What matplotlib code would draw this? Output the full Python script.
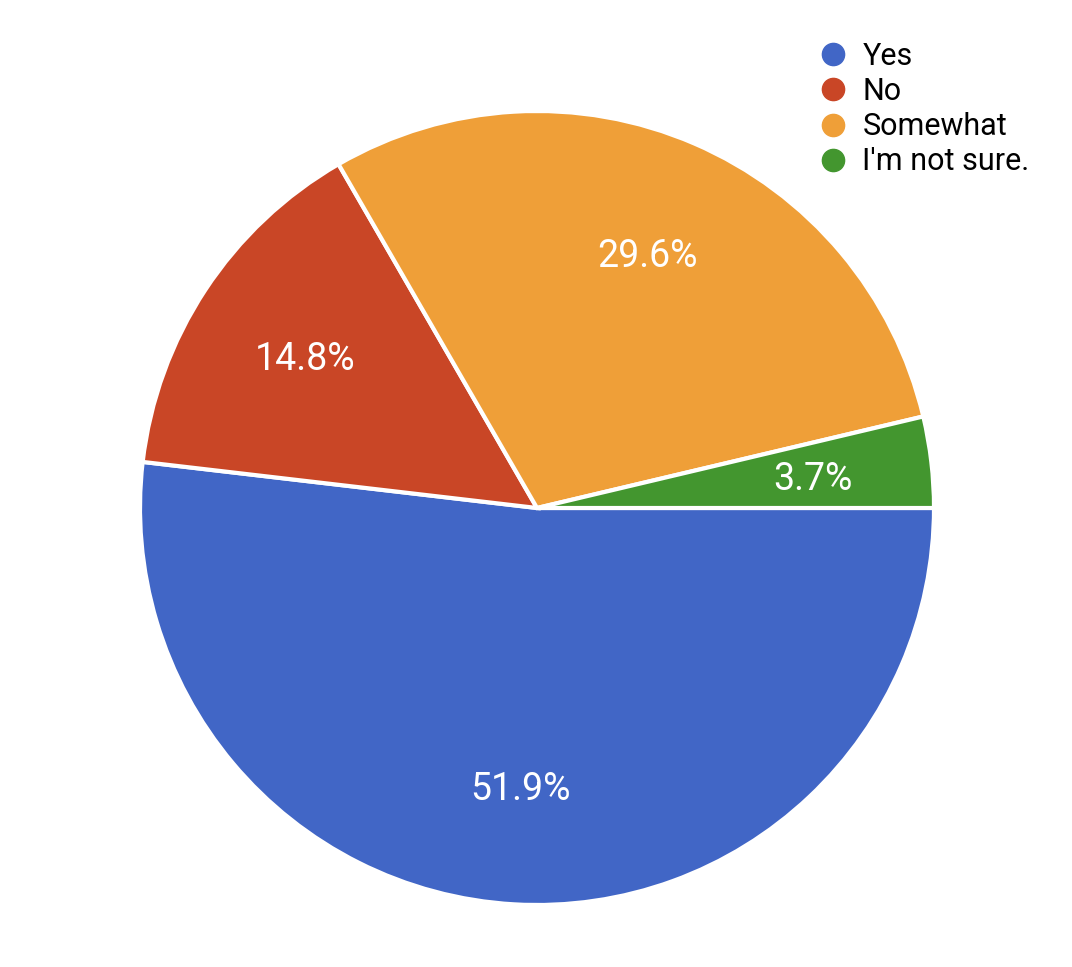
import matplotlib.pyplot as plt
from matplotlib.lines import Line2D

plt.rcParams['font.family'] = ['Roboto', 'DejaVu Sans']

labels = ['Yes', 'No', 'Somewhat', "I'm not sure."]
counts = [14, 4, 8, 1]
colors = ['#4166C6', '#C94626', '#EF9F38', '#43962F']

fig = plt.figure(figsize=(10.72, 9.67), dpi=100)
ax = fig.add_axes([140 / 1072, 62 / 967, 794 / 1072, 794 / 967])

wedges, texts, autotexts = ax.pie(
    counts, colors=colors, startangle=0, counterclock=False,
    autopct='%1.1f%%', pctdistance=0.7, radius=1,
    wedgeprops=dict(edgecolor='white', linewidth=3),
    textprops=dict(color='white', fontsize=27))
for t in autotexts:
    t.set_va('center_baseline')
ax.set_xlim(-1, 1)
ax.set_ylim(-1, 1)
ax.set_aspect('equal')

handles = [Line2D([], [], marker='o', linestyle='none', markersize=16,
                  markerfacecolor=c, markeredgecolor=c) for c in colors]
fig.legend(handles, labels, loc='upper left', bbox_to_anchor=(818 / 1072, 1 - 42 / 967),
           frameon=False, fontsize=22, handletextpad=0.45, labelspacing=0.2,
           handlelength=1.0, borderaxespad=0, borderpad=0)

fig.savefig('out.png', dpi=100, facecolor='white')
